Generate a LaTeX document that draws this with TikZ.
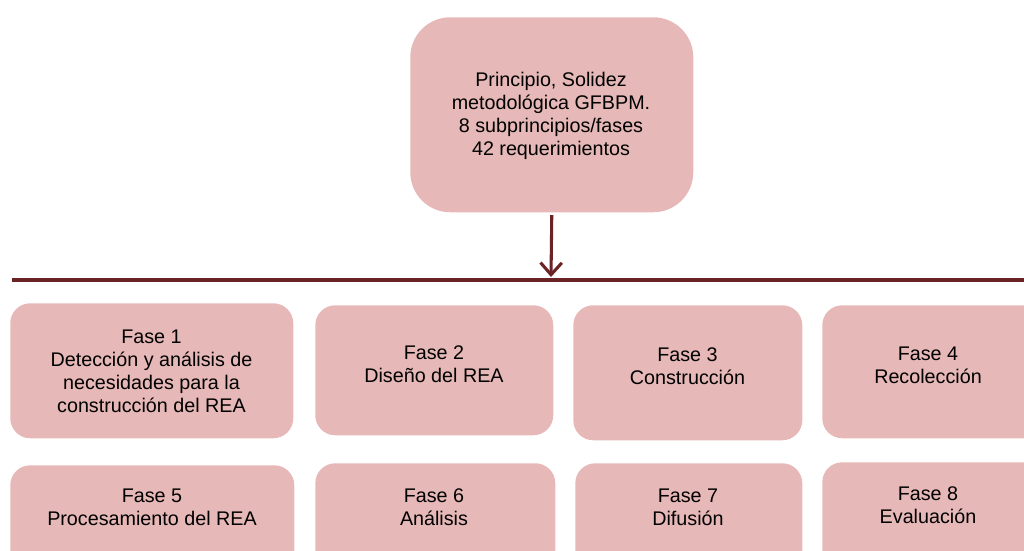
\documentclass[tikz,border=0pt]{standalone}
\usepackage{fontspec}
\setmainfont{Liberation Sans}
\usetikzlibrary{arrows.meta}
\definecolor{boxfill}{HTML}{E6B8B7}
\definecolor{linered}{HTML}{6B2426}
\begin{document}
\begin{tikzpicture}[x=0.75pt,y=-0.75pt,
  box/.style={draw=none,fill=boxfill,rounded corners=#1,inner sep=0pt,anchor=north west},
  box/.default=15pt,
  txt/.style={align=center,font=\fontsize{14.8}{17.3}\selectfont,inner sep=0pt},
  conn/.style={draw=linered,line width=2.3pt}]
\useasboundingbox (0,0) rectangle (1024,550);
\begin{scope}
\clip (0,0) rectangle (1024,550);
% top box
\node[box=30pt,minimum width=283*0.75pt,minimum height=195*0.75pt] (top) at (410,17) {};
\node[txt] (toptxt) at (551,116) {Principio, Solidez\\metodológica GFBPM.\\ 8 subprincipios/fases\\42 requerimientos};
% row 1
\node[box,minimum width=283*0.75pt,minimum height=135*0.75pt] (f1) at (10,303) {};
\node[box,minimum width=238*0.75pt,minimum height=130*0.75pt] (f2) at (315,305) {};
\node[box,minimum width=229*0.75pt,minimum height=135*0.75pt] (f3) at (573,305) {};
\node[box,minimum width=230*0.75pt,minimum height=133*0.75pt] (f4) at (822,305) {};
% row 2
\node[box,minimum width=284*0.75pt,minimum height=110*0.75pt] (f5) at (10,465) {};
\node[box,minimum width=240*0.75pt,minimum height=110*0.75pt] (f6) at (315,463) {};
\node[box,minimum width=227*0.75pt,minimum height=110*0.75pt] (f7) at (575,463) {};
\node[box,minimum width=230*0.75pt,minimum height=110*0.75pt] (f8) at (822,462) {};
\end{scope}
% texts
\node[txt] (f1t) at (151.5,371) {Fase 1\\Detección y análisis de\\necesidades para la\\construcción del REA};
\node[txt] (f2t) at (434,364.5) {Fase 2\\Diseño del REA};
\node[txt] (f3t) at (687.5,366.5) {Fase 3\\Construcción};
\node[txt] (f4t) at (928,365.5) {Fase 4\\Recolección};
\node[txt] (f5t) at (152,507) {Fase 5\\Procesamiento del REA};
\node[txt] (f6t) at (434,507) {Fase 6\\Análisis};
\node[txt] (f7t) at (688,507) {Fase 7\\Difusión};
\node[txt] (f8t) at (928,505.5) {Fase 8\\Evaluación};
% connectors
\coordinate (lineL) at (12,280);
\coordinate (lineR) at (1024,280);
\coordinate (lineM) at (551,277);
\draw[conn] (lineL) -- (lineR);
\draw[conn,-{Straight Barb[length=9pt,width=16pt,line width=2.3pt]}] ([yshift=-2pt]top.south) -- (lineM);
\end{tikzpicture}
\end{document}
